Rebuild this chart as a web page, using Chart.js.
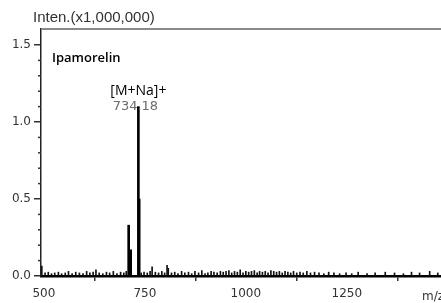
<!DOCTYPE html>
<html>
<head>
<meta charset="utf-8">
<script src="https://cdn.jsdelivr.net/npm/chart.js@4.4.1/dist/chart.umd.min.js"></script>
<style>
  html, body { margin: 0; padding: 0; background: #fff; }
  #wrap { width: 441px; height: 303px; }
</style>
</head>
<body>
<div id="wrap"><canvas id="msChart" width="441" height="303"></canvas></div>
<script>
// main peaks (m/z, intensity x1,000,000)
var mainMz = [710, 715, 734, 736];
var mainInt = [0.33, 0.17, 1.1, 0.5];
// baseline noise spikes
var noiseMz = [495, 503, 511, 519, 527, 536, 544, 553, 561, 570, 579, 588, 597, 606, 614, 622, 629, 637, 646, 655, 663, 672, 681, 690, 698, 704, 741, 748, 756, 763, 768, 776, 784, 792, 799, 805, 808, 816, 824, 832, 841, 849, 858, 866, 874, 883, 891, 899, 906, 914, 921, 929, 937, 944, 951, 958, 965, 972, 979, 986, 993, 1000, 1007, 1014, 1021, 1028, 1034, 1041, 1048, 1055, 1062, 1069, 1076, 1083, 1090, 1097, 1104, 1111, 1118, 1126, 1134, 1142, 1151, 1160, 1170, 1181, 1193, 1205, 1218, 1232, 1248, 1262, 1278, 1300, 1320, 1345, 1368, 1390, 1410, 1430, 1455, 1475];
var noiseInt = [0.065, 0.02, 0.025, 0.015, 0.02, 0.025, 0.015, 0.02, 0.03, 0.015, 0.025, 0.02, 0.015, 0.03, 0.02, 0.025, 0.04, 0.02, 0.015, 0.025, 0.02, 0.03, 0.015, 0.025, 0.02, 0.03, 0.02, 0.025, 0.02, 0.03, 0.06, 0.025, 0.02, 0.03, 0.02, 0.07, 0.05, 0.02, 0.025, 0.015, 0.03, 0.02, 0.025, 0.015, 0.03, 0.02, 0.035, 0.015, 0.02, 0.03, 0.025, 0.02, 0.03, 0.025, 0.03, 0.035, 0.02, 0.03, 0.025, 0.04, 0.02, 0.03, 0.025, 0.03, 0.035, 0.02, 0.03, 0.025, 0.03, 0.02, 0.035, 0.03, 0.025, 0.03, 0.02, 0.03, 0.025, 0.02, 0.03, 0.02, 0.025, 0.02, 0.03, 0.02, 0.025, 0.02, 0.015, 0.025, 0.02, 0.015, 0.02, 0.015, 0.025, 0.015, 0.02, 0.025, 0.02, 0.015, 0.025, 0.02, 0.03, 0.02];
var xTicks = [500, 750, 1000, 1250];
var yTicks = [0.0, 0.5, 1.0, 1.5];
var yMinorTicks = [0.1, 0.2, 0.3, 0.4, 0.6, 0.7, 0.8, 0.9, 1.1, 1.2, 1.3, 1.4];
var sampleName = 'Ipamorelin';
var ionLabel = '[M+Na]+';
var ionMz = 734.18;
var ionPeak = 734;

document.addEventListener("DOMContentLoaded", function() {
    function toPoints(xs, ys) {
        return xs.map(function(m, i) { return { x: m, y: ys[i] }; });
    }
    var tickFont = { family: 'DejaVu Sans', size: 12 };

    // extra drawing: frame top line, minor ticks, labels
    var decor = {
        id: 'decor',
        afterDraw: function(chart) {
            var c = chart.ctx, a = chart.chartArea;
            var xs = chart.scales.x, ys = chart.scales.y;
            c.save();
            c.strokeStyle = '#8a8a8a';
            c.lineWidth = 2;
            c.beginPath();
            c.moveTo(a.left, a.top);
            c.lineTo(a.right, a.top);
            c.stroke();

            c.strokeStyle = '#333';
            c.lineWidth = 1.5;
            yMinorTicks.forEach(function(v) {
                var y = ys.getPixelForValue(v);
                c.beginPath();
                c.moveTo(a.left - 3, y);
                c.lineTo(a.left, y);
                c.stroke();
            });

            c.fillStyle = '#333';
            c.font = '15px "Liberation Sans"';
            c.textBaseline = 'alphabetic';
            c.textAlign = 'left';
            c.fillText('Inten.(x1,000,000)', 33, 22);
            c.font = '12px "DejaVu Sans"';
            c.fillText('m/z', 422, 300);

            c.fillStyle = '#000';
            c.font = '600 13px "Open Sans"';
            c.fillText(sampleName, 52, 62);

            var px = xs.getPixelForValue(ionPeak);
            c.textAlign = 'center';
            c.font = '14px "Open Sans"';
            c.fillText(ionLabel, px, 95);
            c.fillStyle = '#6b6b6b';
            c.font = '13px "DejaVu Sans"';
            c.fillText(ionMz.toFixed(2), px - 3, 110);
            c.restore();
        }
    };

    var ctx = document.getElementById('msChart').getContext('2d');
    var msChart = new Chart(ctx, {
        type: 'bar',
        data: {
            datasets: [{
                label: sampleName,
                data: toPoints(mainMz, mainInt),
                backgroundColor: '#000',
                barThickness: 2,
                grouped: false
            }, {
                label: 'noise',
                data: toPoints(noiseMz, noiseInt),
                backgroundColor: '#111',
                barThickness: 1,
                grouped: false
            }]
        },
        options: {
            responsive: false,
            animation: false,
            layout: { padding: { top: 29, right: 0, left: 0, bottom: 0 } },
            plugins: { legend: { display: false }, tooltip: { enabled: false } },
            scales: {
                x: {
                    type: 'linear',
                    min: 493,
                    max: 1483,
                    offset: false,
                    afterBuildTicks: function(s) { s.ticks = xTicks.map(function(v) { return { value: v }; }); },
                    afterFit: function(s) { s.height = 27; },
                    border: { color: '#000', width: 2.5 },
                    grid: { drawOnChartArea: false, tickLength: 5, color: '#333', lineWidth: 1.5 },
                    ticks: { font: tickFont, color: '#333', padding: 6, maxRotation: 0, autoSkip: false,
                             callback: function(v) { return String(v); } }
                },
                y: {
                    min: 0,
                    max: 1.604,
                    afterBuildTicks: function(s) { s.ticks = yTicks.map(function(v) { return { value: v }; }); },
                    afterFit: function(s) { s.width = 41; },
                    border: { color: '#222', width: 1.5 },
                    grid: { drawOnChartArea: false, tickLength: 7, color: '#333', lineWidth: 1.5 },
                    ticks: { font: tickFont, color: '#333', padding: 3,
                             callback: function(v) { return v.toFixed(1); } }
                }
            }
        },
        plugins: [decor]
    });
});
</script>
</body>
</html>
